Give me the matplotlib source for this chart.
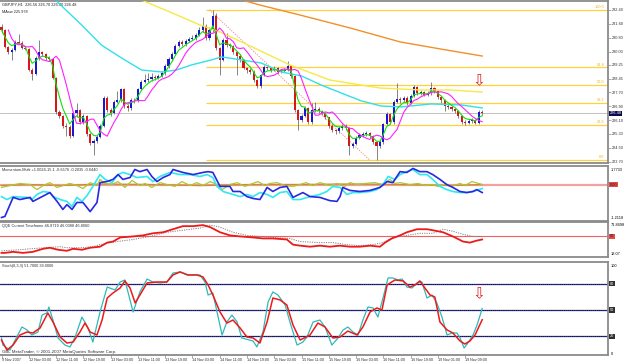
import matplotlib
matplotlib.use('Agg')
from matplotlib import pyplot as plt
import pandas as pd

"""MetaTrader style GBPJPY H1 chart with Momentum, QQE and Stochastic windows."""

plt.rcParams['font.family'] = ['Liberation Sans', 'DejaVu Sans']

# ---- price data (GBPJPY H1, 9 Nov 19:00 .. 19 Nov 2007) ----
first_open = 231.45
closes = [231.25, 230.28, 229.99, 230.11, 230.57, 230.52, 230.22, 230.17, 228.96, 228.73,
          229.65, 229.99, 229.88, 229.65, 229.59, 228.51, 226.56, 226.33, 225.76, 225.70,
          225.19, 226.50, 226.67, 225.99, 226.33, 225.30, 224.78, 224.90, 225.13, 225.76,
          227.36, 226.67, 226.50, 227.13, 227.25, 227.88, 226.90, 226.79, 227.25, 227.22,
          227.88, 228.28, 228.39, 228.45, 228.56, 228.51, 228.62, 228.79, 229.19, 229.59,
          229.88, 230.34, 230.57, 230.45, 230.62, 230.74, 230.80, 230.97, 231.25, 231.48,
          230.80, 231.25, 232.05, 230.22, 229.54, 230.68, 230.39, 230.34, 229.99, 229.76,
          229.54, 229.08, 228.96, 228.85, 228.39, 228.05, 228.68, 229.13, 229.08, 228.96,
          229.08, 228.85, 228.91, 228.96, 229.19, 228.62, 226.67, 226.10, 226.33, 226.79,
          225.99, 226.67, 226.73, 226.64, 226.50, 226.27, 225.76, 225.53, 225.47, 225.64,
          225.76, 225.64, 224.61, 224.73, 225.07, 225.24, 225.30, 225.36, 225.19, 224.84,
          224.61, 224.84, 225.87, 226.44, 225.99, 227.13, 227.30, 227.25, 227.36, 227.07,
          227.48, 227.99, 227.65, 227.70, 227.53, 227.65, 227.93, 227.76, 227.42, 227.25,
          226.90, 226.85, 226.73, 226.62, 226.33, 225.99, 225.93, 226.05, 226.10, 225.93,
          226.56, 226.48]
highs = [231.60, 231.30, 230.35, 230.20, 230.65, 231.00, 230.60, 230.30, 230.20, 229.05,
         229.75, 230.70, 230.05, 229.95, 229.75, 229.65, 228.55, 226.70, 226.40, 225.95,
         225.80, 226.60, 227.10, 226.75, 226.45, 226.40, 225.35, 225.00, 225.25, 225.85,
         227.45, 227.50, 226.80, 227.25, 227.75, 227.95, 227.95, 227.00, 227.35, 227.35,
         227.95, 228.40, 228.75, 228.80, 228.80, 228.70, 228.75, 228.90, 229.30, 229.70,
         230.00, 230.45, 230.70, 230.65, 230.75, 230.85, 230.95, 231.10, 231.40, 232.00,
         231.60, 231.45, 232.40, 232.20, 230.30, 230.80, 231.10, 230.50, 230.40, 230.05,
         229.85, 229.60, 229.15, 229.10, 228.95, 228.45, 228.75, 229.25, 229.20, 229.15,
         229.20, 229.15, 229.00, 229.05, 229.45, 229.25, 228.70, 226.75, 226.45, 226.90,
         226.85, 227.05, 227.15, 226.85, 226.70, 226.55, 226.30, 225.85, 225.60, 225.75,
         225.85, 225.85, 225.70, 224.85, 225.20, 225.35, 225.40, 225.45, 225.40, 225.25,
         224.90, 224.95, 225.95, 226.55, 226.50, 227.25, 228.22, 227.40, 227.45, 227.45,
         227.60, 228.10, 228.05, 227.80, 227.75, 227.75, 228.27, 228.00, 227.80, 227.50,
         227.30, 227.00, 226.90, 226.80, 226.70, 226.40, 226.10, 226.15, 226.20, 226.15,
         226.65, 226.70]
lows = [231.10, 230.20, 229.90, 229.55, 230.05, 230.45, 230.15, 230.10, 228.90, 228.40,
        228.65, 229.55, 229.75, 229.55, 229.50, 228.45, 226.45, 226.20, 225.65, 225.20,
        225.05, 225.10, 226.30, 225.90, 225.85, 225.20, 224.65, 224.10, 224.80, 225.05,
        225.70, 226.55, 226.35, 226.45, 227.05, 227.15, 226.80, 226.60, 226.70, 227.05,
        227.15, 227.80, 228.20, 228.30, 228.35, 228.40, 228.45, 228.55, 228.70, 229.10,
        229.50, 229.80, 230.25, 230.35, 230.35, 230.55, 230.65, 230.70, 230.90, 231.15,
        230.70, 230.70, 231.15, 230.10, 228.70, 229.45, 230.30, 230.20, 229.90, 228.70,
        229.40, 229.00, 228.80, 228.75, 228.25, 227.95, 227.95, 228.60, 228.95, 228.85,
        228.90, 228.75, 228.80, 228.85, 228.90, 228.50, 226.55, 225.55, 226.00, 226.25,
        225.90, 225.90, 226.55, 226.50, 226.40, 226.15, 225.65, 225.40, 225.30, 225.35,
        225.55, 225.50, 224.10, 224.50, 224.65, 225.00, 225.15, 225.20, 225.05, 224.70,
        223.81, 224.50, 224.75, 225.80, 225.85, 225.90, 227.05, 227.10, 227.15, 226.95,
        227.00, 227.40, 227.55, 227.55, 227.45, 227.45, 227.55, 227.65, 227.30, 227.10,
        226.60, 226.75, 226.60, 226.50, 226.20, 225.85, 225.80, 225.85, 225.95, 225.85,
        225.90, 226.40]

# slow moving averages (bar, price)
ma_cyan_bars = [15.2, 23.5, 29.3, 35.2, 41.1, 46.9, 51.3, 55.7, 61.6, 64.5, 70.4, 76.2, 82.1,
                88.0, 93.8, 99.7, 105.6, 111.4, 117.3, 126.0, 134.9, 141]
ma_cyan = [233.08, 231.54, 230.39, 229.65, 228.96, 228.85, 228.96, 229.25, 229.54, 229.71,
           229.54, 229.36, 228.85, 228.62, 228.10, 227.64, 227.19, 226.90, 226.85, 227.02,
           226.96, 226.79]
ma_yellow_bars = [39.6, 49.4, 58.2, 64.1, 72.9, 84.6, 96.3, 111.0, 122.7, 131.5, 141]
ma_yellow = [233.08, 232.28, 231.54, 231.14, 230.34, 229.25, 228.39, 227.93, 227.82, 227.82, 227.70]
ma_orange_bars = [68.5, 75.8, 87.5, 102.2, 116.9, 128.6, 141]
ma_orange = [233.08, 232.68, 232.11, 231.37, 230.57, 230.17, 229.76]

# fibonacci retracement
fib_high, fib_low = 232.40, 223.81
fib_start, fib_end = 61, 108
fib_levels = [0.0, 23.6, 38.2, 50.0, 61.8, 100.0]

price_ticks = [232.40, 231.60, 230.80, 230.00, 229.25, 228.45, 227.70, 226.90,
               226.10, 225.30, 224.50, 223.70]
time_ticks = [0, 8, 16, 24, 32, 40, 48, 56, 64, 72, 80, 88, 96, 104, 112, 120, 128, 136]
time_labels = ['9 Nov 2007', '12 Nov 03:00', '12 Nov 11:00', '12 Nov 19:00', '13 Nov 03:00',
               '13 Nov 11:00', '13 Nov 19:00', '14 Nov 03:00', '14 Nov 11:00', '14 Nov 19:00',
               '15 Nov 03:00', '15 Nov 11:00', '15 Nov 19:00', '16 Nov 03:00', '16 Nov 11:00',
               '16 Nov 19:00', '19 Nov 01:00', '19 Nov 09:00']

# ---- Momentum-Multi window ----
mom_blue_bars = [0, 1.0, 3.4, 5.4, 8.4, 9.2, 14.2, 16.3, 18.0, 19.2, 20.7, 22.1, 23.9, 26.0, 28.0,
                 28.9, 30.9, 32.7, 34.2, 35.6, 37.7, 39.1, 40.6, 42.7, 44.1, 45.6, 47.4, 49.4,
                 50.3, 53.2, 56.2, 59.1, 60.6, 62.0, 64.1, 67.0, 67.9, 70.0, 72.0, 73.8, 75.8,
                 77.9, 79.6, 81.7, 83.7, 85.5, 88.4, 90.5, 93.4, 96.3, 98.4, 99.3, 100.1, 102.2,
                 105.1, 108.1, 111.0, 113.1, 114.8, 116.9, 118.9, 120.7, 122.7, 124.8, 126.5,
                 128.6, 130.6, 132.4, 134.5, 136.5, 138.3, 139.4, 141]
mom_blue = [-1.23, -1.19, -0.48, -0.56, -0.48, -0.63, -0.30, -0.63, -0.93, -0.75, -0.93, -0.67,
            -0.67, -1.01, -0.67, 0.07, 0.11, 0.19, 0.37, 0.19, 0.26, 0.56, 0.48, 0.56, 0.30, 0.11,
            0.26, 0.37, 0.56, 0.45, 0.37, 0.45, 0.48, 0.45, -0.07, -0.07, -0.26, -0.26, -0.45,
            -0.52, -0.56, -0.11, -0.26, -0.11, -0.07, -0.48, -0.30, -0.45, -0.48, -0.60, -0.63,
            -0.45, -0.11, -0.22, -0.26, -0.22, -0.11, 0.11, 0.07, 0.48, 0.45, 0.60, 0.48, 0.48,
            0.37, 0.19, 0.0, -0.11, -0.26, -0.30, -0.26, -0.19, -0.30]
mom_cyan_bars = [0, 1.6, 3.4, 7.5, 8.9, 10.4, 12.2, 14.2, 15.1, 17.2, 19.2, 20.7, 22.1, 23.6,
                 25.1, 26.8, 28.9, 30.4, 32.4, 34.2, 35.6, 37.7, 39.7, 42.7, 44.4, 46.5, 49.4,
                 52.4, 55.3, 58.2, 60.3, 62.0, 63.2, 65.0, 67.9, 70.0, 72.0, 73.8, 75.8, 77.9,
                 79.6, 81.7, 83.7, 85.5, 87.6, 90.5, 93.4, 95.4, 97.2, 99.3, 101.3, 103.1, 105.1,
                 108.1, 110.1, 111.9, 113.4, 115.4, 116.9, 118.9, 120.7, 122.7, 124.8, 126.5,
                 128.6, 130.6, 132.4, 134.5, 136.5, 138.3, 141]
mom_cyan = [-0.45, -0.56, -0.45, -0.48, -0.56, -0.37, -0.26, -0.30, -0.45, -0.56, -0.63, -0.82,
            -0.48, -0.63, -0.41, -0.07, 0.37, 0.19, 0.07, 0.37, 0.45, 0.37, 0.26, 0.30, 0.11,
            0.30, 0.45, 0.37, 0.37, 0.30, 0.37, 0.26, -0.07, -0.26, -0.37, -0.45, -0.37, -0.45,
            -0.30, -0.37, -0.48, -0.30, -0.26, -0.56, -0.56, -0.45, -0.37, -0.26, -0.07, -0.11,
            -0.37, -0.30, -0.30, -0.26, -0.19, 0.0, 0.30, 0.19, 0.37, 0.48, 0.56, 0.37, 0.37,
            0.19, -0.07, -0.19, -0.26, -0.30, -0.30, -0.26, -0.15]
mom_green_bars = [0, 2.5, 5.4, 8.4, 10.4, 12.2, 14.2, 16.3, 18.0, 20.1, 22.1, 23.9, 26.0, 28.0,
                  28.9, 30.4, 32.4, 34.2, 36.2, 38.3, 40.6, 42.1, 44.1, 46.5, 48.5, 50.9, 52.9,
                  55.3, 57.3, 59.1, 61.2, 63.2, 64.7, 67.0, 69.1, 71.4, 72.9, 75.2, 77.3, 78.7,
                  80.8, 83.2, 85.5, 87.6, 89.3, 91.4, 93.4, 96.3, 98.4, 100.7, 102.2, 104.3, 106.6,
                  109.5, 111.6, 113.9, 115.4, 116.9, 119.8, 122.2, 124.2, 126.3, 128.0, 130.1,
                  132.1, 134.5, 135.9, 138.0, 141]
mom_green = [-0.11, -0.04, 0.04, 0.0, -0.19, -0.04, 0.07, -0.11, -0.04, 0.04, -0.04, -0.15, 0.07,
             -0.04, 0.19, 0.04, 0.0, 0.11, -0.11, 0.15, -0.04, 0.04, -0.11, 0.07, 0.0, -0.07, 0.11,
             -0.04, 0.07, -0.04, 0.11, 0.0, -0.19, 0.0, 0.07, -0.07, 0.0, 0.11, -0.04, 0.04, 0.07,
             -0.04, -0.07, 0.0, 0.07, -0.04, 0.07, -0.04, 0.04, -0.07, 0.07, 0.0, 0.04, 0.07, 0.0,
             0.19, 0.04, 0.07, 0.0, 0.04, -0.04, 0.0, -0.07, 0.0, -0.07, 0.04, -0.04, 0.11, 0.0]
mom_orange_bars = [0, 8.4, 17.2, 28.9, 43.6, 58.2, 72.9, 87.6, 102.2, 116.9, 131.5, 141]
mom_orange = [-0.04, 0.0, -0.04, 0.02, 0.0, -0.04, 0.0, 0.0, 0.02, 0.0, -0.04, 0.0]

# ---- QQE window ----
qqe_bars = [0, 1.0, 3.4, 6.3, 9.2, 12.2, 14.2, 16.6, 19.2, 21.0, 23.6, 26.0, 28.9, 31.0, 32.7,
            34.8, 38.6, 41.5, 44.4, 47.4, 50.3, 53.2, 56.2, 59.1, 61.2, 64.1, 67.0, 70.0, 73.8,
            76.7, 79.6, 83.7, 85.5, 87.6, 90.5, 93.4, 96.3, 99.3, 102.2, 105.1, 108.1, 111.0,
            112.5, 114.5, 116.9, 118.9, 121.9, 124.8, 126.5, 129.5, 132.4, 135.4, 137.4, 139.5, 141]
qqe_fast = [24.4, 24.4, 26.0, 24.4, 26.0, 30.7, 32.3, 29.2, 27.6, 30.7, 29.2, 32.3, 33.9, 40.2,
            41.8, 48.1, 49.7, 51.3, 54.5, 56.1, 60.8, 65.5, 65.5, 67.1, 64.0, 56.1, 51.3, 49.7,
            48.1, 46.6, 46.6, 45.0, 37.1, 35.5, 33.9, 35.5, 33.9, 35.5, 33.9, 33.9, 35.5, 33.9,
            40.2, 46.6, 51.3, 56.1, 60.8, 60.8, 59.2, 56.1, 49.7, 41.8, 40.2, 43.4, 45.0]
qqe_slow_bars = [0, 5.4, 8.4, 17.2, 19.2, 23.0, 26.8, 28.9, 33.9, 38.6, 43.6, 48.5, 53.2, 58.2,
                 61.2, 64.1, 67.9, 72.0, 75.8, 79.6, 84.6, 87.6, 93.4, 97.2, 101.3, 105.1, 109.0,
                 111.9, 114.8, 118.9, 122.7, 126.5, 129.5, 132.4, 135.4, 138.3, 141]
qqe_slow = [27.6, 29.2, 30.7, 33.9, 32.3, 32.3, 33.9, 37.1, 41.8, 45.0, 49.7, 56.1, 59.2, 62.4,
            67.1, 64.0, 56.1, 51.3, 49.7, 48.1, 46.6, 41.8, 40.2, 40.2, 37.1, 35.5, 37.1, 40.2,
            48.1, 51.3, 54.5, 54.5, 60.8, 57.6, 52.9, 49.7, 49.7]

# ---- Stochastic(8,3,3) window ----
stoch_k_bars = [0, 0.4, 2.5, 4.0, 6.0, 7.5, 8.9, 10.7, 11.9, 13.3, 13.9, 15.1, 16.6, 18.6, 20.1,
                21.6, 23.6, 25.4, 26.8, 28.9, 31.0, 33.3, 34.8, 36.2, 37.1, 38.6, 40.6, 42.7, 44.4,
                46.5, 48.5, 50.3, 52.4, 54.4, 58.2, 59.7, 60.6, 62.0, 64.7, 66.1, 67.6, 69.1, 70.5,
                73.8, 74.9, 76.7, 78.2, 79.6, 81.1, 83.2, 84.6, 86.7, 88.4, 89.6, 91.4, 93.4, 94.9,
                96.9, 98.7, 100.2, 101.6, 103.1, 104.6, 106.0, 107.5, 109.0, 110.4, 111.9, 113.4,
                114.8, 116.3, 117.5, 118.9, 120.4, 121.9, 123.3, 124.8, 126.3, 127.7, 129.2, 130.7,
                132.1, 133.6, 134.5, 135.7, 136.8, 138.3, 139.5, 141]
stoch_k = [18.2, 10.2, 4.5, 15.9, 30.7, 27.3, 21.6, 25.0, 44.3, 46.6, 53.4, 38.6, 18.2, 10.2, 8.0,
           19.3, 42.0, 29.5, 13.6, 47.7, 76.1, 72.7, 81.8, 84.1, 70.5, 47.7, 70.5, 85.2, 81.8,
           80.7, 81.8, 92.0, 93.2, 89.8, 89.8, 81.8, 67.0, 69.3, 21.6, 36.4, 44.3, 36.4, 18.2,
           14.8, 8.0, 25.0, 59.1, 70.5, 67.0, 55.7, 36.4, 10.2, 13.6, 19.3, 36.4, 38.6, 30.7,
           10.2, 18.2, 27.3, 30.7, 25.0, 21.6, 38.6, 53.4, 52.3, 42.0, 63.6, 86.4, 86.4, 84.1,
           85.2, 76.1, 75.0, 80.7, 81.8, 63.6, 67.0, 58.0, 42.0, 21.6, 23.9, 23.9, 18.2, 6.8,
           12.5, 21.6, 33.0, 51.7]
stoch_d_bars = [0, 1.6, 3.4, 5.4, 7.5, 9.2, 11.3, 13.6, 15.1, 17.2, 19.2, 21.0, 23.0, 24.5, 26.0,
                28.0, 29.5, 31.0, 32.7, 34.8, 36.2, 37.7, 39.2, 40.6, 42.7, 45.6, 48.5, 50.3, 52.4,
                54.7, 57.3, 59.1, 60.6, 62.0, 64.1, 66.1, 67.9, 70.0, 72.0, 73.8, 75.8, 77.9, 79.6,
                81.7, 83.7, 85.5, 87.6, 90.5, 92.8, 94.9, 97.2, 99.3, 101.6, 104.3, 106.0, 108.1,
                110.1, 111.6, 113.1, 115.4, 117.8, 119.8, 121.3, 122.7, 124.2, 125.7, 127.1, 128.6,
                130.7, 132.4, 134.5, 135.9, 137.4, 138.9, 141]
stoch_d = [15.9, 4.5, 10.2, 21.6, 25.0, 23.9, 29.5, 46.6, 36.4, 19.3, 12.5, 13.6, 25.0, 35.2,
           25.0, 21.6, 38.6, 63.6, 69.3, 75.0, 83.0, 75.0, 58.0, 67.0, 80.7, 81.8, 81.8, 89.8,
           93.2, 89.8, 89.8, 87.5, 78.4, 67.0, 47.7, 35.2, 38.6, 29.5, 19.3, 18.2, 12.5, 36.4,
           63.6, 61.4, 55.7, 33.0, 15.9, 21.6, 35.2, 30.7, 18.2, 19.3, 26.1, 21.6, 30.7, 47.7,
           52.3, 50.0, 78.4, 84.1, 83.0, 76.1, 78.4, 83.0, 75.0, 67.0, 64.8, 36.4, 27.3, 23.9,
           14.8, 11.4, 14.8, 21.6, 39.0]
stoch_levels = [20, 50, 80]

# ---- layout (pixel rows of the 625x364 screenshot) ----
fig = plt.figure(figsize=(6.25, 3.64), dpi=100)
fig.patch.set_facecolor('white')
W, H = 625.0, 364.0
right_px = 608


def panel(top, bottom):
    return fig.add_axes([0, 1 - bottom / H, right_px / W, (bottom - top) / H])


ax = panel(1, 163)
ax_mom = panel(166, 221)
ax_qqe = panel(222, 257)
ax_st = panel(262, 355)

xmin, xmax = -0.44, 177.9
grey = '#8a8a8a'
small = 2.8
for a in (ax, ax_mom, ax_qqe, ax_st):
    a.set_xlim(xmin, xmax)
    a.set_facecolor('white')
    for s in a.spines.values():
        s.set_color(grey)
        s.set_linewidth(1.3)
    a.spines['left'].set_visible(False)
    a.yaxis.tick_right()
    a.tick_params(axis='y', length=2, width=0.5, color=grey, pad=1, labelsize=small,
                  labelcolor='#303030')
    a.tick_params(axis='x', bottom=False, labelbottom=False)

# ---- main price window ----
bars = list(range(len(closes)))
opens = [first_open] + closes[:-1]
body_bottom = [min(o, c) for o, c in zip(opens, closes)]
body_height = [max(abs(c - o), 0.02) for o, c in zip(opens, closes)]
body_color = ['#1818d0' if c >= o else '#d81818' for o, c in zip(opens, closes)]

ax.vlines(bars, lows, highs, color='#707070', lw=0.6, zorder=2)
ax.bar(bars, body_height, bottom=body_bottom, width=0.62, color=body_color, lw=0, zorder=3)

cl = pd.Series(closes)
fast = cl.ewm(span=4, adjust=False).mean()
lagged = cl.rolling(5, min_periods=1).mean().shift(2)
ax.plot(ma_orange_bars, ma_orange, color='#f0902a', lw=1.0, zorder=4)
ax.plot(ma_yellow_bars, ma_yellow, color='#f5ea45', lw=1.0, zorder=4)
ax.plot(ma_cyan_bars, ma_cyan, color='#30e0ea', lw=1.0, zorder=4)
ax.plot(bars, fast, color='#10e010', lw=0.8, zorder=5)
ax.plot(bars, lagged, color='#ff20ff', lw=0.8, zorder=5)

# fibonacci
fib_prices = [fib_low + (fib_high - fib_low) * lv / 100 for lv in fib_levels]
ax.hlines(fib_prices, fib_start - 1, xmax, color='#ffd23c', lw=0.9, zorder=1)
for lv, p in zip(fib_levels, fib_prices):
    ax.text(176.8, p + 0.04, f'{lv:.1f}', color='#e8b820', fontsize=small, ha='right', va='bottom')
ax.plot([fib_start, fib_end], [fib_high, fib_low], color='#f08080', lw=0.6,
        ls=(0, (1.5, 1.5)), zorder=1)

last = closes[-1]
ax.axhline(last, color='#b8b8b8', lw=0.6, zorder=1)
ax.set_ylim(223.64, 232.91)
ax.set_yticks(price_ticks)
ax.set_yticklabels([f'{p:.2f}' for p in price_ticks])
ax.text(1.003, last, f'{last:.2f}', transform=ax.get_yaxis_transform(), fontsize=small,
        color='white', va='center', ha='left',
        bbox=dict(boxstyle='square,pad=0.15', fc='#0a0a50', ec='none'))
ax.text(0.004, 0.99, f'GBPJPY,H1  {opens[-1]:.2f} {highs[-1]:.2f} {lows[-1]:.2f} {last:.2f}',
        transform=ax.transAxes, fontsize=small, va='top', color='#202020')
ax.text(0.004, 0.945, 'MAsw 225.978', transform=ax.transAxes, fontsize=small, va='top',
        color='#202020')
ax.text(140, 228.35, '\u21e9', color='#e02020', fontsize=11, ha='center', va='center',
        family='DejaVu Sans')

# ---- momentum window ----
ax_mom.axhline(0, color='#f4a0a0', lw=1.6, zorder=1)
ax_mom.plot(mom_orange_bars, mom_orange, color='#d08a2a', lw=0.9)
ax_mom.plot(mom_green_bars, mom_green, color='#a8c838', lw=0.9)
ax_mom.plot(mom_cyan_bars, mom_cyan, color='#30e8f0', lw=1.2)
ax_mom.plot(mom_blue_bars, mom_blue, color='#2828e0', lw=1.2)
ax_mom.set_ylim(-1.36, 0.69)
ax_mom.set_yticks([])
ax_mom.text(1.005, 0.97, '1.7733', transform=ax_mom.transAxes, fontsize=small, va='top')
ax_mom.text(1.005, 0.02, '-1.2118', transform=ax_mom.transAxes, fontsize=small, va='bottom')
ax_mom.text(1.003, 0, '0.00', transform=ax_mom.get_yaxis_transform(), fontsize=small,
            va='center', color='#202020',
            bbox=dict(boxstyle='square,pad=0.15', fc='#e84848', ec='none'))
ax_mom.text(0.004, 0.96, 'Momentum-Multi +1.0024-15.1 -0.6576 -0.2035 -0.0440',
            transform=ax_mom.transAxes, fontsize=small, va='top', color='#303030')

# ---- QQE window ----
ax_qqe.axhline(50, color='#f06060', lw=0.8, zorder=1)
ax_qqe.plot(qqe_slow_bars, qqe_slow, color='#808080', lw=0.7, ls=(0, (1.2, 1.2)))
ax_qqe.plot(qqe_bars, qqe_fast, color='#ee1a1a', lw=1.3)
ax_qqe.set_ylim(18.07, 71.87)
ax_qqe.set_yticks([])
ax_qqe.text(1.005, 0.97, '71.8698', transform=ax_qqe.transAxes, fontsize=small, va='top')
ax_qqe.text(1.005, 0.03, '18.07', transform=ax_qqe.transAxes, fontsize=small, va='bottom')
ax_qqe.text(1.003, 50, '50', transform=ax_qqe.get_yaxis_transform(), fontsize=small,
            va='center', color='#202020',
            bbox=dict(boxstyle='square,pad=0.15', fc='#e84848', ec='none'))
ax_qqe.text(0.004, 0.95, 'QQE Current Timeframe 46.8719 46.0388 46.8060',
            transform=ax_qqe.transAxes, fontsize=small, va='top', color='#303030')

# ---- stochastic window ----
for lv in stoch_levels:
    ax_st.axhline(lv, color='#10104a', lw=0.9, zorder=1)
    ax_st.axhline(lv, color='#6060ff', lw=0.5, ls=(0, (1, 2)), zorder=1)
    ax_st.text(1.003, lv, str(lv), transform=ax_st.get_yaxis_transform(), fontsize=small,
               va='center', color='white',
               bbox=dict(boxstyle='square,pad=0.15', fc='#303030', ec='none'))
ax_st.plot(stoch_k_bars, stoch_k, color='#30b8b8', lw=0.9)
ax_st.plot(stoch_d_bars, stoch_d, color='#ee1a1a', lw=1.1)
ax_st.set_ylim(-1.1, 104.5)
ax_st.set_yticks([])
ax_st.text(1.005, 100, '100', transform=ax_st.get_yaxis_transform(), fontsize=small, va='center')
ax_st.text(1.005, 0, '0', transform=ax_st.get_yaxis_transform(), fontsize=small, va='center')
ax_st.text(0.004, 0.975, f'Stoch(8,3,3) {stoch_k[-1]:.4f} {stoch_d[-1]:.4f}',
           transform=ax_st.transAxes, fontsize=small, va='top', color='#303030')
ax_st.text(0.004, 0.01, 'GBL MetaTrader, \u00a9 2001-2007 MetaQuotes Software Corp.',
           transform=ax_st.transAxes, fontsize=3.2, va='bottom', color='#303030')
ax_st.text(140, 68, '\u21e9', color='#e02020', fontsize=11, ha='center', va='center',
           family='DejaVu Sans')

ax_st.set_xticks(time_ticks)
ax_st.set_xticklabels(time_labels, ha='left')
ax_st.tick_params(axis='x', bottom=True, labelbottom=True, length=2, width=0.5, color=grey,
                  pad=0.5, labelsize=2.7, labelcolor='#303030')

fig.savefig('out.png', dpi=100, facecolor='white')
